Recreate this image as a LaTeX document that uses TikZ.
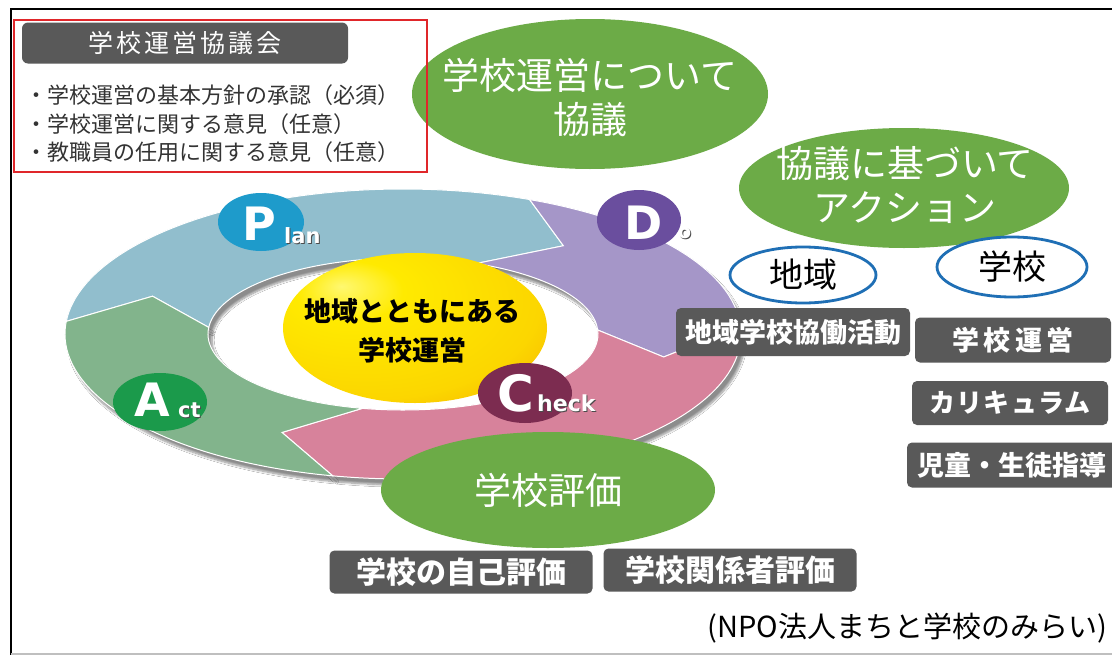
\documentclass[tikz,border=0pt]{standalone}
\usepackage{fontspec}
\setmainfont{Noto Sans CJK JP}
\newfontfamily\lat{DejaVu Sans}
\usetikzlibrary{shapes.geometric,shadows.blur}
\definecolor{bgray}{HTML}{595959}
\definecolor{egreen}{HTML}{6CAB47}
\definecolor{eblue}{HTML}{1F6FB5}
\definecolor{rplan}{HTML}{91BECD}
\definecolor{rdo}{HTML}{A596C8}
\definecolor{rcheck}{HTML}{D7829B}
\definecolor{ract}{HTML}{82B48C}
\definecolor{lplan}{HTML}{1E9BCB}
\definecolor{ldo}{HTML}{6A4E9E}
\definecolor{lcheck}{HTML}{7C2C50}
\definecolor{lact}{HTML}{1B9A4B}
\definecolor{redbox}{HTML}{E0262A}
\definecolor{txtgray}{HTML}{333333}
\definecolor{yelA}{HTML}{FFF870}
\definecolor{yelB}{HTML}{FFEA00}
\definecolor{orgA}{HTML}{F29A00}
\pgfdeclareradialshading{yelsh}{\pgfpoint{-14bp}{14bp}}{color(0bp)=(yelA); color(10bp)=(yelB); color(32bp)=(yelB!75!orgA); color(52bp)=(orgA); color(80bp)=(orgA)}
\def\pcx{403}\def\pcy{334}
\def\pRx{338}\def\pRy{145}
\def\prx{195}\def\pry{76}
\def\pMx{266.5}\def\pMy{110.5}
\def\phd{15}
\newcommand{\ringseg}[3]{%
  \path[#3]
   ({\pcx+\pRx*cos(#1)},{\pcy+\pRy*sin(#1)})
   arc[start angle=#1, end angle=#2, x radius=\pRx, y radius=\pRy]
   -- ({\pcx+\pMx*cos(#2+\phd)},{\pcy+\pMy*sin(#2+\phd)})
   -- ({\pcx+\prx*cos(#2)},{\pcy+\pry*sin(#2)})
   arc[start angle=#2, end angle=#1, x radius=\prx, y radius=\pry]
   -- ({\pcx+\pMx*cos(#1+\phd)},{\pcy+\pMy*sin(#1+\phd)})
   -- cycle;}
\begin{document}
\begin{tikzpicture}[x=1pt,y=-1pt,
  gbox/.style={fill=bgray, rounded corners=5pt, text=white, inner sep=0pt, font=\bfseries\fontsize{26}{26}\selectfont},
  gell/.style={ellipse, fill=egreen, inner sep=0pt},
  gtxt/.style={text=white, align=center, inner sep=0pt, font=\fontsize{37}{44}\selectfont},
  bell/.style={ellipse, draw=eblue, line width=2.8pt, fill=white, inner sep=0pt},
  lell/.style={ellipse, inner sep=0pt},
  bigl/.style={text=white, inner sep=0pt, anchor=base west, font=\lat\bfseries\fontsize{46}{46}\selectfont},
  smll/.style={text=white, inner sep=0pt, anchor=base west, font=\lat\bfseries\fontsize{21}{21}\selectfont},
  smsh/.style={smll, text=black!70},
  ringshadow/.style={fill=#1, blur shadow={shadow xshift=4pt, shadow yshift=-6pt, shadow blur steps=8, shadow opacity=45}},
  ringfill/.style={fill=#1, draw=white, line width=1pt},
]
\useasboundingbox (0,0) rectangle (1112,656);
\fill[white] (0,0) rectangle (1112,656);
% frame
\draw[black, line width=1.8pt] (1113,9) -| (11,655);
\draw[gray!50, line width=1.2pt] (11,654) -- (1113,654);

% PDCA ring
\ringseg{185}{292}{ringshadow=rplan}
\ringseg{292}{357}{ringshadow=rdo}
\ringseg{357}{462}{ringshadow=rcheck}
\ringseg{462}{545}{ringshadow=ract}
\ringseg{185}{292}{ringfill=rplan}
\ringseg{292}{357}{ringfill=rdo}
\ringseg{357}{462}{ringfill=rcheck}
\ringseg{462}{545}{ringfill=ract}

% center ellipse
\node[lell, shading=yelsh, minimum width=264, minimum height=150] (core) at (415,328) {};
\node[align=center, inner sep=0pt, font=\bfseries\fontsize{27}{39}\selectfont] (coret) at (412,331) {地域とともにある\\学校運営};

% letter ellipses
\node[lell, fill=lplan, minimum width=86, minimum height=58] (pe) at (261,222) {};
\node[bigl] (pl) at (242,240) {P};
\node[smsh] (plsh) at (285,244) {lan};
\node[smll] (pls) at (284,243) {lan};
\node[lell, fill=ldo, minimum width=84, minimum height=60] (de) at (639,220) {};
\node[bigl] (dl) at (624,239) {D};
\node[smsh, font=\lat\bfseries\fontsize{19}{19}\selectfont] (dlsh) at (679,239) {o};
\node[smll, font=\lat\bfseries\fontsize{19}{19}\selectfont] (dls) at (678,238) {o};
\node[lell, fill=lcheck, minimum width=94, minimum height=60] (ce) at (525,393) {};
\node[bigl, font=\lat\bfseries\fontsize{50}{50}\selectfont] (cl) at (497,411) {C};
\node[smsh, font=\lat\bfseries\fontsize{22}{22}\selectfont] (clsh) at (538,412) {heck};
\node[smll, font=\lat\bfseries\fontsize{22}{22}\selectfont] (cls) at (537,411) {heck};
\node[lell, fill=lact, minimum width=94, minimum height=58] (ae) at (160,402) {};
\node[bigl] (al) at (134,416) {A};
\node[smsh] (alsh) at (179,418) {ct};
\node[smll] (als) at (178,417) {ct};

% green ellipses
\node[gell, minimum width=356, minimum height=150] (e1) at (590,94) {};
\node[gtxt] (e1t) at (590,97) {学校運営について\\協議};
\node[gell, minimum width=330, minimum height=120] (e2) at (904,188) {};
\node[gtxt] (e2t) at (905,185) {協議に基づいて\\アクション};
\node[gell, minimum width=334, minimum height=116] (e3) at (548,490) {};
\node[gtxt] (e3t) at (548,490) {学校評価};

% blue ellipses
\node[bell, minimum width=146, minimum height=56] (chiiki) at (803,275) {};
\node[font=\fontsize{34}{34}\selectfont, inner sep=0pt] (chiikit) at (803,275) {地域};
\node[bell, minimum width=150, minimum height=60] (gakko) at (1012,267) {};
\node[font=\fontsize{34}{34}\selectfont, inner sep=0pt] (gakkot) at (1012,267) {学校};

% red box
\node[fill=bgray, rounded corners=6pt, minimum width=326, minimum height=41, inner sep=0pt, text=white, font=\fontsize{25}{25}\selectfont\addfontfeature{LetterSpace=12}] (title) at (185,43) {学校運営協議会};
\node[anchor=west, align=left, inner sep=0pt, text=txtgray, font=\fontsize{22}{28.5}\selectfont] (bul) at (25,124) {・学校運営の基本方針の承認（必須）\\・学校運営に関する意見（任意）\\・教職員の任用に関する意見（任意）};
\draw[redbox, line width=2.6pt] (14,20) rectangle (427,172);

% gray boxes
\node[gbox, minimum width=234, minimum height=48, font=\bfseries\fontsize{27}{27}\selectfont] (b1) at (793,332) {地域学校協働活動};
\node[gbox, minimum width=196, minimum height=45, font=\bfseries\fontsize{27}{27}\selectfont\addfontfeature{LetterSpace=17}] (b2) at (1013,340) {学校運営};
\node[gbox, minimum width=196, minimum height=44, font=\bfseries\fontsize{26}{26}\selectfont\addfontfeature{LetterSpace=5}] (b3) at (1010,403) {カリキュラム};
\node[gbox, minimum width=210, minimum height=45, font=\bfseries\fontsize{27}{27}\selectfont] (b4) at (1012,465) {児童・生徒指導};
\node[gbox, minimum width=263, minimum height=43, font=\bfseries\fontsize{30}{30}\selectfont] (b5) at (461,572) {学校の自己評価};
\node[gbox, minimum width=253, minimum height=43, font=\bfseries\fontsize{30}{30}\selectfont] (b6) at (730,570) {学校関係者評価};

% credit
\node[anchor=east, inner sep=0pt, font=\fontsize{29}{29}\selectfont] (credit) at (1107,628) {(NPO法人まちと学校のみらい)};
\end{tikzpicture}
\end{document}
